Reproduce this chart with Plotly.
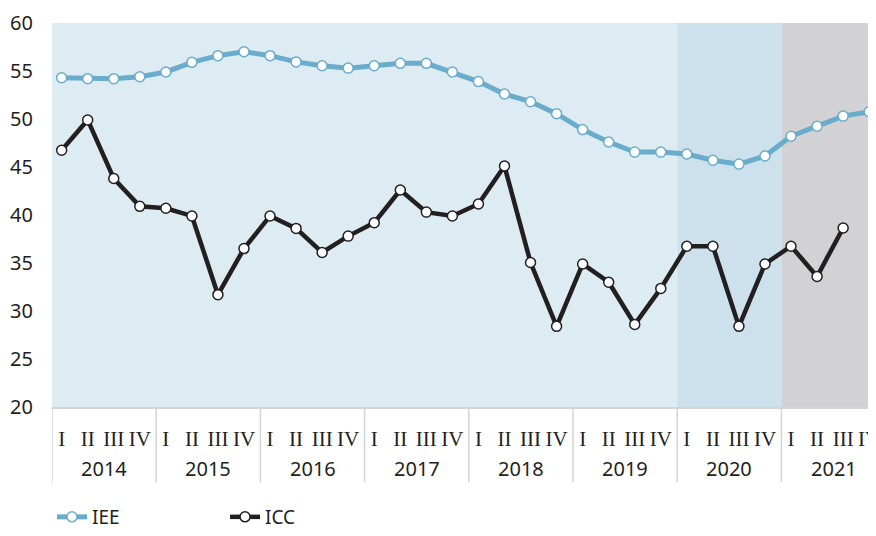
import plotly.graph_objects as go

years = ["2014", "2015", "2016", "2017", "2018", "2019", "2020", "2021"]
quarters = ["I", "II", "III", "IV"]

iee = [54.3, 54.2, 54.2, 54.4, 54.9, 55.9, 56.6, 57.0,
       56.6, 55.95, 55.55, 55.3, 55.55, 55.8, 55.8, 54.9,
       53.9, 52.6, 51.8, 50.55, 48.9, 47.6, 46.55, 46.55,
       46.35, 45.7, 45.3, 46.15, 48.2, 49.25, 50.3, 50.75]
icc = [46.75, 49.9, 43.8, 40.9, 40.7, 39.9, 31.7, 36.5,
       39.9, 38.6, 36.1, 37.8, 39.2, 42.6, 40.3, 39.9,
       41.15, 45.1, 35.05, 28.4, 34.9, 33.0, 28.6, 32.35,
       36.75, 36.75, 28.4, 34.9, 36.75, 33.6, 38.65, None]

n = len(iee)
xs = list(range(n))
qlabels = [quarters[i % 4] for i in xs]

FONT = "Noto Sans"
TXT = "#231f20"

fig = go.Figure()
fig.add_trace(go.Scatter(
    x=xs, y=iee, name="IEE", mode="lines+markers", legend="legend",
    line=dict(color="#6aaccb", width=5),
    marker=dict(size=10, color="white", line=dict(color="#6aaccb", width=1.5)),
))
fig.add_trace(go.Scatter(
    x=xs, y=icc, name="ICC", mode="lines+markers", legend="legend2",
    line=dict(color="#231f20", width=4.5),
    marker=dict(size=10, color="white", line=dict(color="#231f20", width=1.5)),
))

off = -0.37
shapes = [
    dict(type="rect", xref="x", yref="y", x0=off, x1=off + 24, y0=20, y1=60,
         fillcolor="#ddebf2", line_width=0, layer="below"),
    dict(type="rect", xref="x", yref="y", x0=off + 24, x1=off + 28, y0=20, y1=60,
         fillcolor="#cde1ec", line_width=0, layer="below"),
    dict(type="rect", xref="x", yref="y", x0=off + 28, x1=off + 32, y0=20, y1=60,
         fillcolor="#d2d2d4", line_width=0, layer="below"),
]
for k in range(len(years) + 1):
    shapes.append(dict(type="line", xref="x", yref="paper", x0=off + 4 * k, x1=off + 4 * k,
                       y0=0, y1=-0.196, line=dict(color="#d4d4d4", width=1.5)))

annotations = []
for k, yr in enumerate(years):
    annotations.append(dict(x=off + 4 * k + 2, y=-0.159, xref="x", yref="paper",
                            text=yr, showarrow=False, yanchor="middle",
                            font=dict(family=FONT, size=20, color=TXT)))

legend_common = dict(orientation="h", yanchor="bottom", y=-129 / 384, xanchor="left",
                     bgcolor="rgba(0,0,0,0)",
                     font=dict(family=FONT, size=19, color=TXT))

fig.update_layout(
    width=868, height=528,
    margin=dict(l=44, r=0, t=15, b=129, autoexpand=False),
    paper_bgcolor="white", plot_bgcolor="white",
    shapes=shapes, annotations=annotations,
    showlegend=True,
    legend=dict(x=0.0, **legend_common),
    legend2=dict(x=0.21, **legend_common),
    xaxis=dict(range=[off, off + 824 / 26.05], tickmode="array", tickvals=xs, ticktext=qlabels,
               showgrid=False, zeroline=False, showline=True, linecolor="#d4d4d4", linewidth=1.5,
               ticks="", ticklabelstandoff=12, automargin=False, ticklabeloverflow="allow",
               tickfont=dict(family="Liberation Serif", size=21, color=TXT)),
    yaxis=dict(range=[20, 60], dtick=5, showgrid=False, zeroline=False, showline=False,
               ticks="", ticklabelstandoff=18, automargin=False,
               tickfont=dict(family=FONT, size=20, color=TXT)),
)

fig.write_html("out.html")
